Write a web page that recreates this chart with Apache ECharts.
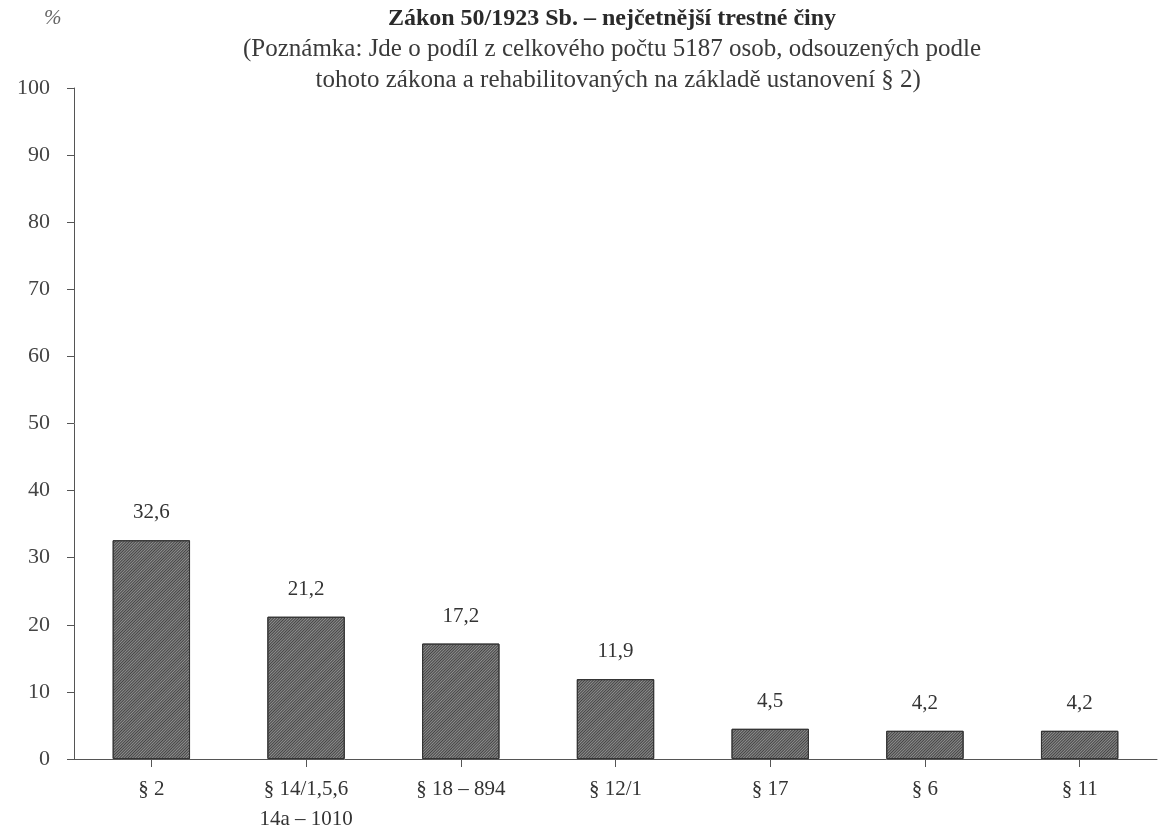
<!DOCTYPE html>
<html>
<head>
<meta charset="utf-8">
<script src="https://cdn.jsdelivr.net/npm/echarts@6/dist/echarts.min.js"></script>
<style>
  html, body { margin: 0; padding: 0; background: #fff; }
  #main { width: 1167px; height: 834px; }
</style>
</head>
<body>
<div id="main"></div>
<script>
// 初始化实例
var chart = echarts.init(document.getElementById('main'));

const categories = ['§ 2', '§ 14/1,5,6\n14a – 1010', '§ 18 – 894', '§ 12/1', '§ 17', '§ 6', '§ 11'];
const values = [32.6, 21.2, 17.2, 11.9, 4.5, 4.2, 4.2];
const yTicks = [0, 100, 10]; // min, max, interval

const serif = '"Liberation Serif", "DejaVu Serif", serif';

var option = {
    backgroundColor: '#fff',
    title: [
        {
            text: 'Zákon 50/1923 Sb. – nejčetnější trestné činy',
            left: 612,
            top: 7,
            padding: 0,
            textAlign: 'center',
            textStyle: { fontFamily: serif, fontSize: 24, fontWeight: 'bold', color: '#2a2a2a' }
        },
        {
            text: '(Poznámka: Jde o podíl z celkového počtu 5187 osob, odsouzených podle\n  tohoto zákona a rehabilitovaných na základě ustanovení § 2)',
            left: 612,
            top: 34,
            padding: 0,
            textAlign: 'center',
            textStyle: { fontFamily: serif, fontSize: 25, fontWeight: 'normal', color: '#3a3a3a', lineHeight: 31 }
        },
        {
            text: '%',
            left: 44,
            top: 8,
            padding: 0,
            textStyle: { fontFamily: serif, fontSize: 21, fontWeight: 'normal', fontStyle: 'italic', color: '#666' }
        }
    ],
    grid: {
        left: 74,
        right: 10,
        top: 88,
        bottom: 72,
        containLabel: false
    },
    xAxis: {
        type: 'category',
        data: categories,
        axisLine: { show: true, lineStyle: { color: '#555', width: 1 } },
        axisTick: { show: true, alignWithLabel: true, length: 8, lineStyle: { color: '#555' } },
        axisLabel: {
            fontFamily: serif,
            fontSize: 21,
            color: '#333',
            margin: 15,
            lineHeight: 30
        }
    },
    yAxis: {
        type: 'value',
        min: yTicks[0],
        max: yTicks[1],
        interval: yTicks[2],
        axisLine: { show: true, lineStyle: { color: '#555', width: 1 } },
        axisTick: { show: true, length: 7, lineStyle: { color: '#555' } },
        splitLine: { show: false },
        axisLabel: {
            fontFamily: serif,
            fontSize: 22,
            color: '#444',
            margin: 24
        }
    },
    series: [
        {
            type: 'bar',
            data: values,
            barWidth: '50%',
            itemStyle: {
                color: '#8e8e8e',
                borderColor: '#333',
                borderWidth: 1,
                decal: {
                    symbol: 'rect',
                    symbolSize: 1,
                    dashArrayX: [1, 0],
                    dashArrayY: [1, 1],
                    rotation: -Math.PI / 4,
                    color: '#444'
                }
            },
            label: {
                show: true,
                position: 'top',
                distance: 17,
                fontFamily: serif,
                fontSize: 21,
                color: '#333',
                formatter: function (p) {
                    return String(p.value).replace('.', ',');
                }
            },
            animation: false
        }
    ]
};

chart.setOption(option);

window.addEventListener('resize', function () {
    chart.resize();
});
</script>
</body>
</html>
